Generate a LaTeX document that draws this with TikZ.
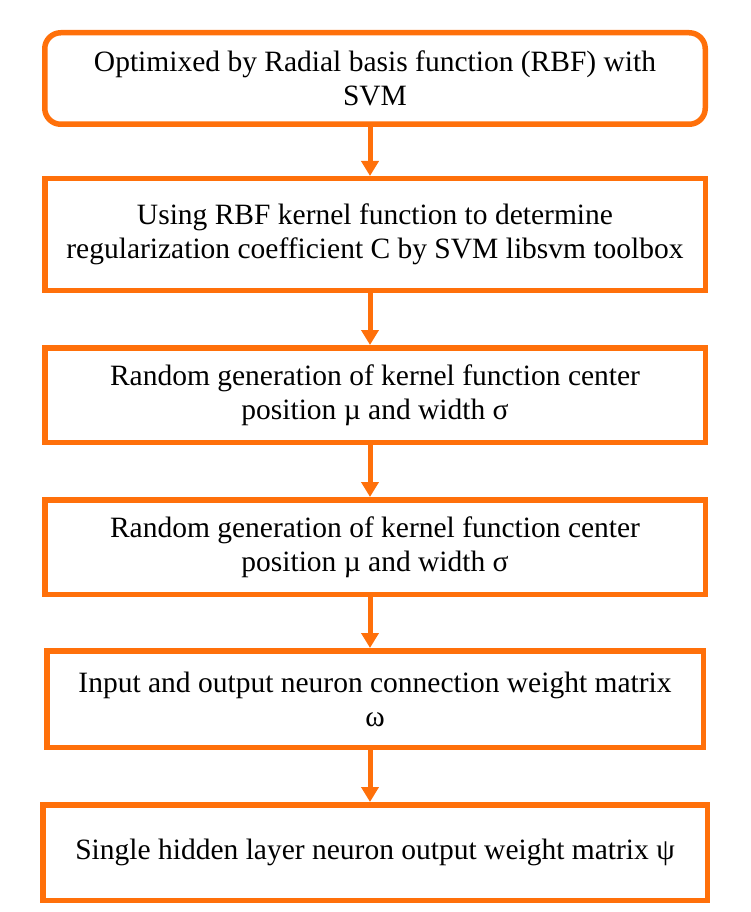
\documentclass[tikz,border=0pt]{standalone}
\usepackage{fontspec}
\setmainfont{Liberation Serif}
\usetikzlibrary{arrows.meta}
\definecolor{org}{RGB}{255,112,10}
\begin{document}
\begin{tikzpicture}[x=1pt,y=-1pt,
  box/.style={draw=org, line width=5.5pt, fill=white, align=center,
    inner sep=0pt, font=\fontsize{29.5}{34}\selectfont, text=black},
  arr/.style={draw=org, line width=5pt, -{Triangle[width=17pt,length=15pt]}}]
\useasboundingbox (0,0) rectangle (750,912);
\node[box, rounded corners=16pt, minimum width=660.5pt, minimum height=91.5pt] (b1) at (375,78.5)
  {Optimixed by Radial basis function (RBF) with\\SVM};
\node[box, minimum width=660.5pt, minimum height=111.5pt] (b2) at (375,234.5)
  {Using RBF kernel function to determine\\regularization coefficient C by SVM libsvm toolbox};
\node[box, minimum width=660.5pt, minimum height=94.5pt] (b3) at (375,395)
  {Random generation of kernel function center\\position \textmu\ and width σ};
\node[box, minimum width=660.5pt, minimum height=94.5pt] (b4) at (375,547)
  {Random generation of kernel function center\\position \textmu\ and width σ};
\node[box, minimum width=656.5pt, minimum height=96.5pt] (b5) at (375,699)
  {Input and output neuron connection weight matrix\\ω};
\node[box, minimum width=664.5pt, minimum height=95.5pt] (b6) at (375,852.5)
  {Single hidden layer neuron output weight matrix ψ};
\coordinate (ax) at (370,0);
\draw[arr] (b1.south -| ax) -- (b2.north -| ax);
\draw[arr] (b2.south -| ax) -- (b3.north -| ax);
\draw[arr] (b3.south -| ax) -- (b4.north -| ax);
\draw[arr] (b4.south -| ax) -- (b5.north -| ax);
\draw[arr] (b5.south -| ax) -- (b6.north -| ax);
\end{tikzpicture}
\end{document}
